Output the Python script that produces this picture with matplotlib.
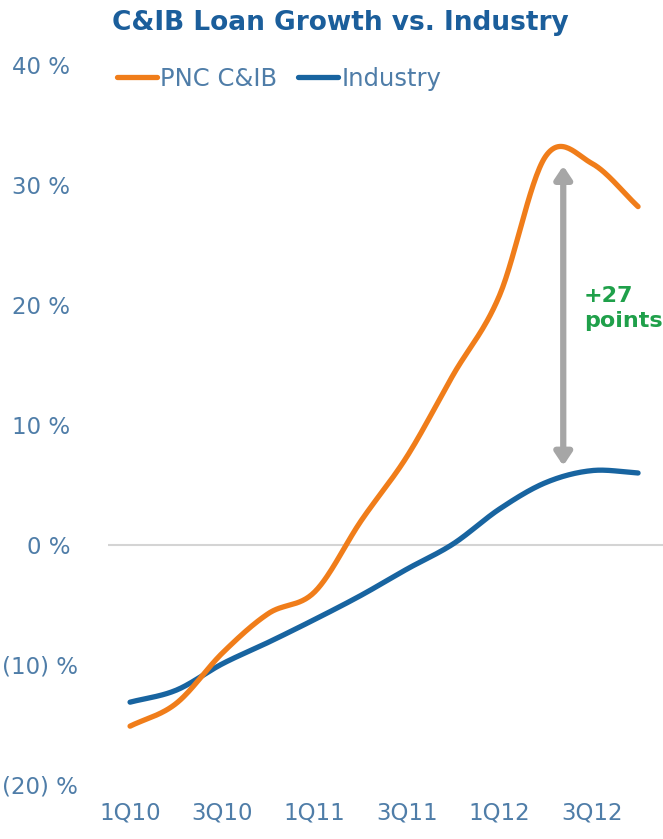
import numpy as np
import matplotlib
matplotlib.use("Agg")
import matplotlib.pyplot as plt

quarters = ["1Q10", "2Q10", "3Q10", "4Q10", "1Q11", "2Q11",
            "3Q11", "4Q11", "1Q12", "2Q12", "3Q12", "4Q12"]
pnc = [-15.1, -13.2, -9.0, -5.7, -3.9, 2.0, 7.4, 14.2, 20.8, 32.4, 31.8, 28.2]
industry = [-13.1, -12.1, -9.9, -8.1, -6.2, -4.2, -2.0, 0.1, 3.0, 5.2, 6.2, 6.0]
tick_labels = ["1Q10", "3Q10", "1Q11", "3Q11", "1Q12", "3Q12"]
y_ticks = [-20, -10, 0, 10, 20, 30, 40]
gap_label = "+27\npoints"

ORANGE = "#F07D1A"
BLUE = "#1864A0"
TXT = "#4F7DA8"


def smooth(y, n=30):
    # catmull-rom, similar to excel's "smoothed line"
    y = np.asarray(y, float)
    p = np.concatenate([[2 * y[0] - y[1]], y, [2 * y[-1] - y[-2]]])
    xs, ys = [], []
    t = np.linspace(0, 1, n, endpoint=False)
    for i in range(len(y) - 1):
        p0, p1, p2, p3 = p[i], p[i + 1], p[i + 2], p[i + 3]
        m1, m2 = (p2 - p0) / 2, (p3 - p1) / 2
        h00 = 2 * t**3 - 3 * t**2 + 1
        h10 = t**3 - 2 * t**2 + t
        h01 = -2 * t**3 + 3 * t**2
        h11 = t**3 - t**2
        xs.append(i + t)
        ys.append(h00 * p1 + h10 * m1 + h01 * p2 + h11 * m2)
    xs.append([len(y) - 1])
    ys.append([y[-1]])
    return np.concatenate(xs), np.concatenate(ys)


fig = plt.figure(figsize=(6.63, 8.39), dpi=100)
ax = fig.add_axes([0.163, 0.0644, 0.837, 0.8581])

x = np.arange(len(quarters))
ax.axhline(0, color="#d4d4d4", lw=1.5, zorder=1)
sx, sy = smooth(industry)
ax.plot(sx, sy, color=BLUE, lw=3.8, solid_capstyle="round", label="Industry", zorder=3)
sx, sy = smooth(pnc)
ax.plot(sx, sy, color=ORANGE, lw=3.8, solid_capstyle="round", label="PNC C&IB", zorder=4)

ax.set_xlim(-0.476, 11.54)
ax.set_ylim(-20, 40)
ax.set_xticks(x[::2])
ax.set_xticklabels(tick_labels)
ax.set_yticks(y_ticks)
ax.set_yticklabels([f"({abs(v)}) %" if v < 0 else f"{v} % " for v in y_ticks])
for s in ax.spines.values():
    s.set_visible(False)
ax.tick_params(length=0, labelsize=16.5, labelcolor=TXT)
ax.tick_params(axis="y", pad=22)
ax.tick_params(axis="x", pad=12)

# gap arrow
ax.annotate("", xy=(9.38, 6.6), xytext=(9.38, 31.6),
            arrowprops=dict(arrowstyle="<|-|>,head_length=0.75,head_width=0.5",
                            color="#a6a6a6", lw=4.5, shrinkA=0, shrinkB=0))
ax.text(9.83, 19.7, gap_label, color="#1FA04A", fontsize=16, fontweight="bold",
        ha="left", va="center", linespacing=1.35)

handles, labels = ax.get_legend_handles_labels()
fig.legend(handles[::-1], labels[::-1], loc="center left", bbox_to_anchor=(0.143, 0.906),
           ncol=2, frameon=False, handlelength=1.65, handletextpad=0.15,
           columnspacing=0.85, labelcolor=TXT, prop={"size": 17.5})

fig.text(0.513, 0.972, "C&IB Loan Growth vs. Industry", ha="center", va="center",
         fontsize=19, fontweight="bold", color="#1B5E9B")

fig.savefig("out.png", dpi=100)
